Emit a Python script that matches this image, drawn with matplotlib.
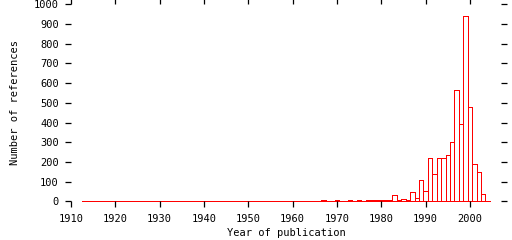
import matplotlib
matplotlib.use("Agg")
import matplotlib.pyplot as plt

# Data: references per year of publication
years = list(range(1913, 2005))
known = {
    1967: 5, 1970: 5, 1973: 5, 1975: 5,
    1977: 5, 1978: 5, 1979: 5, 1980: 5, 1981: 5, 1982: 5,
    1983: 30, 1984: 6, 1985: 10, 1986: 5, 1987: 46, 1988: 15,
    1989: 107, 1990: 53, 1991: 219, 1992: 139, 1993: 219, 1994: 219,
    1995: 235, 1996: 301, 1997: 563, 1998: 393, 1999: 940, 2000: 480,
    2001: 190, 2002: 148, 2003: 37, 2004: 0,
}
counts = [known.get(y, 0) for y in years]

xticks = list(range(1910, 2001, 10))
yticks = list(range(0, 1001, 100))

fig = plt.figure(figsize=(5.12, 2.40), dpi=100)
ax = fig.add_axes([71/512, 1 - 201.3/240, 430/512, 196.9/240])

bars = ax.bar(years, counts, width=1.0, fill=False, edgecolor="#ff0000",
              linewidth=0.72, align="center")
for b in bars:
    b.set_clip_on(False)
    b.set_antialiased(False)

ax.set_xlim(1910, 2007)
ax.set_ylim(0, 1000)
for s in ax.spines.values():
    s.set_visible(False)

font = "DejaVu Sans Mono"
ax.set_xticks(xticks)
ax.set_yticks(yticks)
ax.tick_params(axis="both", direction="out", length=4.3, width=0.9,
               color="black", labelsize=7.5, pad=4.5,
               top=True, right=True)
for lab in ax.get_xticklabels() + ax.get_yticklabels():
    lab.set_family(font)

ax.set_xlabel("Year of publication", family=font, fontsize=7.5, labelpad=3)
ax.set_ylabel("Number of references", family=font, fontsize=7.5, labelpad=10)

fig.savefig("out.png", dpi=100)
